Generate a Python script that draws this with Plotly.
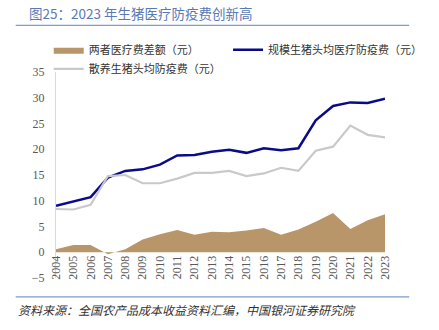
import plotly.graph_objects as go

years = list(range(2004, 2024))
scale_fee = [9.0, 9.8, 10.7, 14.5, 15.8, 16.1, 17.0, 18.8, 18.9, 19.5,
             19.9, 19.3, 20.2, 19.8, 20.2, 25.6, 28.4, 29.1, 29.0, 29.8]
backyard_fee = [8.4, 8.3, 9.2, 14.8, 15.0, 13.4, 13.4, 14.3, 15.4, 15.4,
                15.8, 14.8, 15.3, 16.4, 15.8, 19.7, 20.5, 24.6, 22.8, 22.3]
fee_gap = [0.6, 1.4, 1.4, -0.4, 0.6, 2.5, 3.5, 4.3, 3.4, 4.0,
           3.9, 4.2, 4.7, 3.4, 4.4, 5.9, 7.6, 4.5, 6.2, 7.4]
y_ticks = [-5, 0, 5, 10, 15, 20, 25, 30, 35]

W, H = 439, 330
L, R, T, B = 55.7, 34.7, 71.7, 51.9
PW, PH = W - L - R, H - T - B


def px(x):
    return (x - L) / PW


def py(y):
    return (H - B - y) / PH


CJK = "Noto Sans CJK SC"
SERIF = "Liberation Serif"
legend_font = dict(family=CJK, size=11, color="#333333")

fig = go.Figure()
fig.add_trace(go.Scatter(
    x=years, y=fee_gap, mode="lines", fill="tozeroy",
    line=dict(width=0, color="#b9966a"), fillcolor="#b9966a",
    name="两者医疗费差额（元）", legend="legend"))
fig.add_trace(go.Scatter(
    x=years, y=scale_fee, mode="lines",
    line=dict(width=2.5, color="#0b0b8a"),
    name="规模生猪头均医疗防疫费（元）", legend="legend2"))
fig.add_trace(go.Scatter(
    x=years, y=backyard_fee, mode="lines",
    line=dict(width=2.2, color="#c9c9c9"),
    name="散养生猪头均防疫费（元）", legend="legend"))

fig.update_layout(
    width=W, height=H,
    margin=dict(l=L, r=R, t=T, b=B),
    paper_bgcolor="white", plot_bgcolor="white",
    showlegend=True,
    legend=dict(x=px(48), y=py(35), xanchor="left", yanchor="top",
                font=legend_font, bgcolor="rgba(0,0,0,0)", itemwidth=30,
                tracegroupgap=0, traceorder="normal"),
    legend2=dict(x=px(238), y=py(35), xanchor="left", yanchor="top",
                 font=legend_font, bgcolor="rgba(0,0,0,0)", itemwidth=30),
    xaxis=dict(range=[2004, 2023], tickmode="array", tickvals=years,
               ticktext=[str(y) for y in years], tickangle=-90,
               showgrid=False, zeroline=False, showline=False,
               anchor="free", position=py(252.3), ticks="",
               tickfont=dict(family=SERIF, size=12, color="#595959")),
    yaxis=dict(range=[-5, 35], tickvals=y_ticks, showgrid=False, zeroline=False,
               showline=True, linecolor="#d9d9d9", linewidth=1, ticks="",
               tickfont=dict(family=SERIF, size=12, color="#595959"),
               ticklabelstandoff=8),
)

# header, rules and source note
fig.add_annotation(xref="paper", yref="paper", x=px(25), y=py(13),
                   xanchor="left", yanchor="middle", showarrow=False,
                   text="图25：2023 年生猪医疗防疫费创新高",
                   font=dict(family=CJK, size=13.5, color="#5a79b5"))
fig.add_shape(type="line", xref="paper", yref="paper",
              x0=px(13), x1=px(430), y0=py(25), y1=py(25),
              line=dict(color="#7d9bd0", width=1.2))
fig.add_shape(type="line", xref="paper", yref="paper",
              x0=px(13), x1=px(430), y0=py(297), y1=py(297),
              line=dict(color="#7d9bd0", width=1.2))
fig.add_annotation(xref="paper", yref="paper", x=px(13), y=py(310),
                   xanchor="left", yanchor="middle", showarrow=False,
                   text="<i>资料来源：全国农产品成本收益资料汇编，中国银河证券研究院</i>",
                   font=dict(family=CJK, size=12, color="#333333"))

fig.write_html("out.html")
